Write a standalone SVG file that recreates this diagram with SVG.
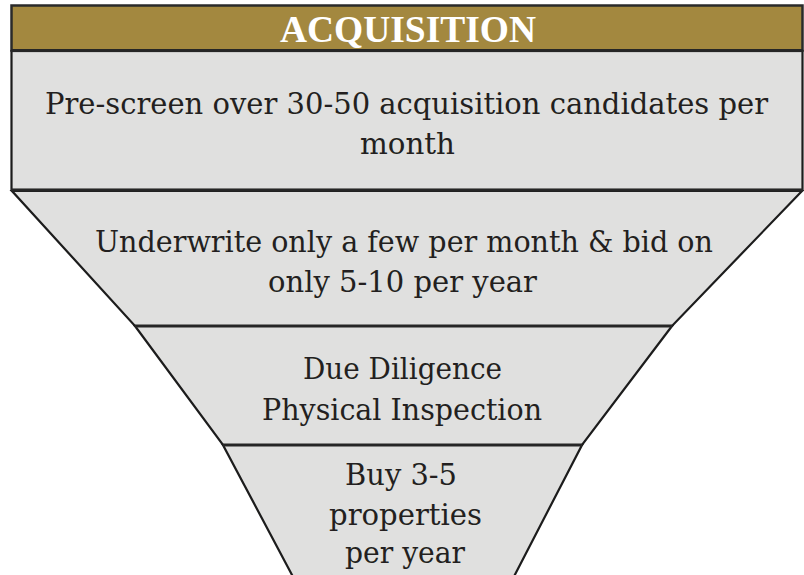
<svg xmlns="http://www.w3.org/2000/svg" width="804" height="575" viewBox="0 0 804 575">
  <style>
    .lvl { fill: #e0e0df; stroke: #1c1c1c; stroke-width: 2.2; stroke-linejoin: miter; }
    .sep { stroke: #262626; stroke-width: 3.2; fill: none; }
    .body { font-family: "DejaVu Serif", "Liberation Serif", serif; font-size: 29.5px; fill: #231f20; text-anchor: middle; }
    .head { font-family: "Liberation Serif", "Times New Roman", serif; font-size: 37px; font-weight: bold; fill: #ffffff; text-anchor: middle; }
  </style>
  <rect width="804" height="575" fill="#ffffff"/>

  <g id="header">
    <rect x="11.5" y="5.5" width="791" height="45" fill="#a3883f" stroke="#2a2a2a" stroke-width="2.5"/>
    <text class="head" x="408" y="42" textLength="256" lengthAdjust="spacingAndGlyphs">ACQUISITION</text>
  </g>

  <g id="level1">
    <rect class="lvl" x="11.5" y="51" width="791" height="139" stroke="#2a2a2a" stroke-width="2.5"/>
    <text class="body" x="406.5" y="114" textLength="723" lengthAdjust="spacingAndGlyphs">Pre-screen over 30-50 acquisition candidates per</text>
    <text class="body" x="407.5" y="154" textLength="95" lengthAdjust="spacingAndGlyphs">month</text>
  </g>

  <g id="level2">
    <polygon class="lvl" points="12,191 802,191 672,326 135,326"/>
    <text class="body" x="404" y="252" textLength="618" lengthAdjust="spacingAndGlyphs">Underwrite only a few per month &amp; bid on</text>
    <text class="body" x="402.5" y="292" textLength="269" lengthAdjust="spacingAndGlyphs">only 5-10 per year</text>
  </g>

  <g id="level3">
    <polygon class="lvl" points="135,326 672,326 582,445 223,445"/>
    <text class="body" x="402.5" y="379" textLength="199" lengthAdjust="spacingAndGlyphs">Due Diligence</text>
    <text class="body" x="402" y="420" textLength="280" lengthAdjust="spacingAndGlyphs">Physical Inspection</text>
  </g>

  <g id="level4">
    <polygon class="lvl" points="223,445 582,445 507,590 300,590"/>
    <text class="body" x="401" y="485" textLength="112" lengthAdjust="spacingAndGlyphs">Buy 3-5</text>
    <text class="body" x="405.5" y="525" textLength="153" lengthAdjust="spacingAndGlyphs">properties</text>
    <text class="body" x="405" y="563" textLength="120" lengthAdjust="spacingAndGlyphs">per year</text>
  </g>

  <g id="connectors">
    <line class="sep" x1="11" y1="50.5" x2="803" y2="50.5"/>
    <line class="sep" x1="11" y1="190" x2="803" y2="190"/>
    <line class="sep" x1="135" y1="326" x2="672" y2="326"/>
    <line class="sep" x1="223" y1="445" x2="582" y2="445"/>
  </g>
</svg>
